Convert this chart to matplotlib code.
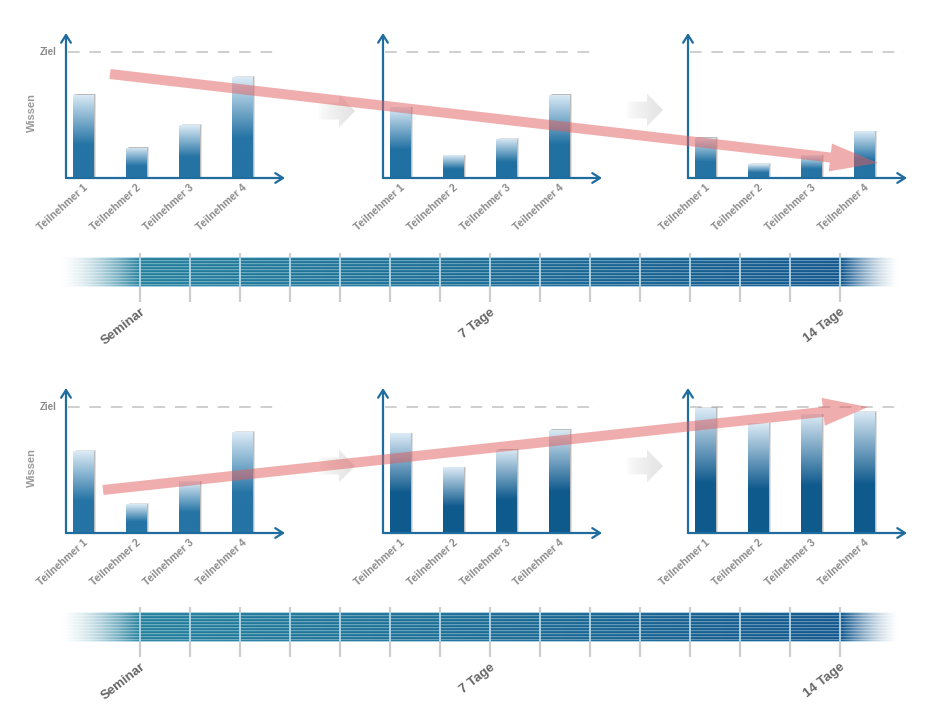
import numpy as np
import matplotlib.pyplot as plt
import matplotlib.transforms as mtransforms
from matplotlib.colors import to_rgb
from matplotlib.patches import FancyArrow

plt.rcParams['font.family'] = ['Liberation Sans', 'DejaVu Sans']

# Daten
teilnehmer = ['Teilnehmer 1', 'Teilnehmer 2', 'Teilnehmer 3', 'Teilnehmer 4']
ziel = 100
# oben: ohne Auffrischung, unten: mit Auffrischung
oben_seminar = [66, 24, 42, 80]
oben_7_tage = [56, 18, 31, 66]
oben_14_tage = [32, 11, 18, 37]
unten_seminar = [65, 23, 41, 80]
unten_7_tage = [79, 52, 66, 82]
unten_14_tage = [99, 87, 94, 96]

tage = list(range(15))
tag_labels = {0: 'Seminar', 7: '7 Tage', 14: '14 Tage'}

W, H = 940, 710
fig = plt.figure(figsize=(W / 100, H / 100), dpi=100)
fig.patch.set_facecolor('white')

achse = '#1f6d9f'
hell = np.array(to_rgb('#dcebf6'))


def px_axes(left, top, width, height, **kw):
    return fig.add_axes([left / W, 1 - (top + height) / H, width / W, height / H], **kw)


def verlauf(dunkel, n=200):
    # von unten (dunkel) nach oben (hell)
    d = np.array(to_rgb(dunkel))
    v = np.linspace(0, 1, n)
    t = np.clip((1 - v) / 0.6, 0, 1)[:, None]
    return (hell * (1 - t) + d * t)[:, None, :]


def panel(ax, werte, dunkel, erste):
    ax.patch.set_visible(False)
    for s in ax.spines.values():
        s.set_visible(False)
    x = np.arange(len(werte))
    # Schatten
    ax.bar(x + 0.06, np.array(werte) + 0.6, width=0.38, color='black', alpha=0.12, zorder=2)
    ax.bar(x + 0.03, np.array(werte) + 0.3, width=0.38, color='black', alpha=0.16, zorder=2)
    bars = ax.bar(x, werte, width=0.38, color='none', edgecolor='none', zorder=3)
    for b in bars:
        im = ax.imshow(verlauf(dunkel), origin='lower', aspect='auto', zorder=3,
                       extent=(b.get_x(), b.get_x() + b.get_width(), 0, b.get_height()))
        im.set_clip_path(b)
    ax.axhline(ziel, xmin=0.01, xmax=0.985, color='#cfcfcf', lw=1.4, dashes=(6, 5), zorder=1)
    ax.set_xlim(-0.32, 3.81)
    ax.set_ylim(0, 115)
    ax.set_yticks([])
    ax.set_xticks(x)
    ax.set_xticklabels(teilnehmer, rotation=42, ha='right', va='top', rotation_mode='anchor',
                       fontsize=7.5, fontweight='bold', color='#8a8a8a')
    ax.tick_params(axis='x', length=0, pad=3)
    pfeil = dict(arrowstyle='->,head_length=0.55,head_width=0.35', color=achse, lw=1.6,
                 shrinkA=0, shrinkB=0)
    ax.annotate('', xy=(0, 1), xytext=(0, 0), xycoords='axes fraction', arrowprops=pfeil,
                annotation_clip=False)
    ax.annotate('', xy=(1, 0), xytext=(0, 0), xycoords='axes fraction', arrowprops=pfeil,
                annotation_clip=False)
    if erste:
        tr = mtransforms.blended_transform_factory(ax.transAxes, ax.transData)
        ax.text(-0.045, ziel, 'Ziel', transform=tr, ha='right', va='center',
                fontsize=7, fontweight='bold', color='#8a8a8a')
        ax.text(-0.155, 0.45, 'Wissen', transform=ax.transAxes, rotation=90,
                ha='center', va='center', fontsize=8, fontweight='bold', color='#9a9a9a')


def zeitstrahl(ax):
    ax.set_xlim(-1.6, 15.2)
    ax.set_ylim(0, 1)
    ax.axis('off')
    y0, y1 = 0.3, 0.9
    n, rows = 840, 30
    xs = np.linspace(-1.6, 15.2, n)
    f = np.clip(xs / 14, 0, 1)[None, :, None]
    links = np.array(to_rgb('#2f8ba8'))
    rechts = np.array(to_rgb('#1c6197'))
    basis = links * (1 - f) + rechts * f
    img = np.repeat(basis, rows, axis=0)
    for r in range(rows):
        if r % 3 == 0:
            img[r] = img[r] * 0.7 + 0.3
        elif r % 3 == 2:
            img[r] = img[r] * 0.9
    img[0] = to_rgb('#a9d0e1')
    img[-1] = to_rgb('#a9d0e1')
    alpha = np.ones(n)
    alpha = np.where(xs < 0, np.clip((xs + 1.6) / 1.6, 0, 1) ** 1.5, alpha)
    alpha = np.where(xs > 14.05, np.clip((15.2 - xs) / 1.15, 0, 1) ** 1.5, alpha)
    rgba = np.dstack([img, np.repeat(alpha[None, :], rows, axis=0)])
    ax.vlines(tage, 0, 1, color='#cdcdcd', lw=1.6, zorder=1)
    ax.imshow(rgba, extent=(-1.6, 15.2, y0, y1), aspect='auto', zorder=2)
    ax.vlines(tage, y0, y1, color='#b5d6e4', lw=1.3, zorder=3)
    ax.set_xlim(-1.6, 15.2)
    ax.set_ylim(0, 1)
    tr = mtransforms.blended_transform_factory(ax.transData, ax.transAxes)
    for tag, txt in tag_labels.items():
        ax.text(tag, -0.08, txt, transform=tr, rotation=38, ha='right', va='top',
                rotation_mode='anchor', fontsize=9.5, fontweight='bold', color='#666666')


reihen = [
    (33, [oben_seminar, oben_7_tage, oben_14_tage], ['#2574a5', '#2070a2', '#2574a5']),
    (388, [unten_seminar, unten_7_tage, unten_14_tage], ['#2574a5', '#0f5a8d', '#0f5a8d']),
]
lefts = [66, 383, 688]
for top, gruppen, farben in reihen:
    for i, (left, werte, farbe) in enumerate(zip(lefts, gruppen, farben)):
        ax = px_axes(left, top, 219, 145)
        panel(ax, werte, farbe, i == 0)

zeitstrahl(px_axes(60, 253, 840, 49))
zeitstrahl(px_axes(60, 607, 840, 50))

# Pfeile darueber
ov = fig.add_axes([0, 0, 1, 1], zorder=10)
ov.patch.set_alpha(0)
grau = np.zeros((1, 100, 4))
grau[..., :3] = to_rgb('#e3e3e3')
grau[..., 3] = np.linspace(0.0, 1.0, 100) ** 0.7
for gx, gy in [(318, 111), (626, 110), (318, 466), (626, 466)]:
    p = FancyArrow(gx, gy, 37, 0, width=17, head_width=33, head_length=16,
                   length_includes_head=True, color='none', lw=0)
    ov.add_patch(p)
    im = ov.imshow(grau, extent=(gx, gx + 37, gy + 17, gy - 17), aspect='auto', zorder=1)
    im.set_clip_path(p)
ov.add_patch(FancyArrow(110, 74, 768, 89, width=10, head_width=28, head_length=48,
                        length_includes_head=True, color='#e35d5d', alpha=0.5, lw=0, zorder=2))
ov.add_patch(FancyArrow(103, 490, 765, -83, width=10, head_width=28, head_length=45,
                        length_includes_head=True, color='#e35d5d', alpha=0.5, lw=0, zorder=2))
ov.set_xlim(0, W)
ov.set_ylim(H, 0)
ov.axis('off')

fig.savefig('out.png', dpi=100)
